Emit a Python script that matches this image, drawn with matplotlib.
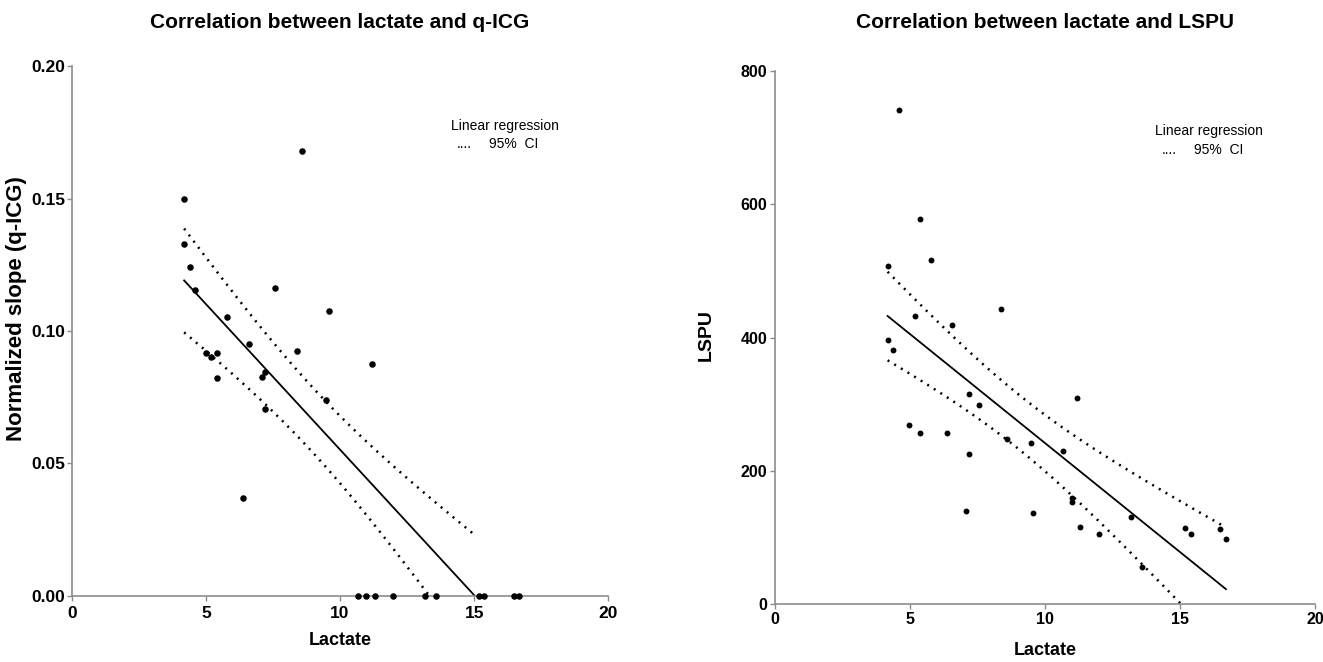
import matplotlib
matplotlib.use("Agg")
import matplotlib.pyplot as plt
import numpy as np

plt.rcParams['font.family'] = ['Liberation Sans', 'DejaVu Sans']

# lactate vs normalized slope (q-ICG)
qicg_lactate = [4.19, 4.19, 4.40, 4.59, 4.99, 5.19, 5.40, 5.40, 5.79, 6.39,
                6.59, 7.10, 7.20, 7.20, 7.59, 8.39, 8.59, 9.49, 9.58, 11.18,
                10.68, 10.98, 11.29, 11.99, 13.18, 13.58, 15.18, 15.38, 16.48, 16.66]
qicg_slope = [0.150, 0.133, 0.124, 0.1155, 0.0918, 0.0903, 0.0918, 0.0824, 0.1054, 0.0369,
              0.0950, 0.0828, 0.0844, 0.0705, 0.1164, 0.0925, 0.1678, 0.0741, 0.1077, 0.0875,
              0, 0, 0, 0, 0, 0, 0, 0, 0, 0]

# lactate vs LSPU
lspu_lactate = [4.58, 5.38, 5.77, 4.17, 5.18, 6.57, 8.38, 4.17, 4.38, 7.18,
                7.57, 11.19, 4.96, 5.38, 6.38, 8.58, 9.49, 10.68, 7.18, 10.98,
                10.98, 7.08, 9.57, 13.18, 11.28, 11.99, 15.18, 15.39, 16.48, 16.70, 13.59]
lspu_values = [741, 578, 516, 508, 433, 419, 443, 396, 381, 315,
               299, 309, 269, 256, 256, 248, 241, 229, 225, 159,
               153, 139, 136, 130, 115, 105, 114, 105, 112, 97, 56]

GRAY = '#8c8c8c'
DOTS = (0, (0.8, 2.3))


def fit_with_ci(x, y, xs, t=2.045):
    x = np.asarray(x, float)
    y = np.asarray(y, float)
    slope, icpt = np.polyfit(x, y, 1)
    resid = y - (slope * x + icpt)
    n = len(x)
    s = np.sqrt(np.sum(resid ** 2) / (n - 2))
    sxx = np.sum((x - x.mean()) ** 2)
    yfit = slope * xs + icpt
    half = t * s * np.sqrt(1.0 / n + (xs - x.mean()) ** 2 / sxx)
    return yfit, yfit - half, yfit + half, slope, icpt


def style_axes(ax, size, xpad, ypad):
    for side in ['top', 'right']:
        ax.spines[side].set_visible(False)
    for side in ['left', 'bottom']:
        ax.spines[side].set_color(GRAY)
        ax.spines[side].set_linewidth(1.2)
    ax.tick_params(direction='out', length=3.5, width=1, color=GRAY,
                   labelsize=size)
    ax.tick_params(axis='x', pad=xpad)
    ax.tick_params(axis='y', pad=ypad)
    for lab in ax.get_xticklabels() + ax.get_yticklabels():
        lab.set_fontweight('bold')


def legend_text(ax, x0, y0, y1, dx_dots, dx_ci):
    ax.text(x0, y0, 'Linear regression', transform=ax.transAxes,
            fontsize=10, va='center', ha='left')
    ax.text(x0 + dx_dots, y1, '....', transform=ax.transAxes,
            fontsize=10, va='center', ha='left')
    ax.text(x0 + dx_ci, y1, '95%  CI', transform=ax.transAxes,
            fontsize=10, va='center', ha='left')


fig = plt.figure(figsize=(13.23, 6.62), dpi=100)

# ---- left panel
ax1 = fig.add_axes([0.0542, 0.0997, 0.4056, 0.8006])
xq = np.asarray(qicg_lactate)
_, _, _, sl, ic = fit_with_ci(qicg_lactate, qicg_slope, xq)
x_end = -ic / sl
xs = np.linspace(xq.min(), x_end, 200)
yfit, lo, hi, _, _ = fit_with_ci(qicg_lactate, qicg_slope, xs)
ax1.plot(xs, yfit, color='black', lw=1.3)
ax1.plot(xs, hi, color='black', lw=1.8, linestyle=DOTS)
ax1.plot(xs, lo, color='black', lw=1.8, linestyle=DOTS)
ax1.scatter(qicg_lactate, qicg_slope, s=22, color='black', zorder=3,
            clip_on=False, linewidths=0)
ax1.set_xlim(0, 20)
ax1.set_ylim(0, 0.20)
ax1.set_xticks([0, 5, 10, 15, 20])
ax1.set_yticks([0, 0.05, 0.10, 0.15, 0.20])
ax1.set_yticklabels(['0.00', '0.05', '0.10', '0.15', '0.20'])
style_axes(ax1, 12.5, 4, 1)
ax1.set_xlabel('Lactate', fontsize=13, fontweight='bold')
ax1.xaxis.set_label_coords(0.5, -0.068)
ax1.set_ylabel('Normalized slope (q-ICG)', fontsize=16, fontweight='bold')
ax1.yaxis.set_label_coords(-0.083, 0.5415)
legend_text(ax1, 0.706, 0.887, 0.852, 0.012, 0.072)
fig.text(0.0542 + 0.4056 / 2, 1 - 22 / 662, 'Correlation between lactate and q-ICG',
         ha='center', va='center', fontsize=15, fontweight='bold')

# ---- right panel
ax2 = fig.add_axes([0.5858, 0.0876, 0.4082, 0.8051])
xl = np.asarray(lspu_lactate)
xs2 = np.linspace(xl.min(), xl.max(), 200)
yfit2, lo2, hi2, _, _ = fit_with_ci(lspu_lactate, lspu_values, xs2)
ax2.plot(xs2, yfit2, color='black', lw=1.3)
ax2.plot(xs2, hi2, color='black', lw=1.8, linestyle=DOTS)
ax2.plot(xs2, lo2, color='black', lw=1.8, linestyle=DOTS)
ax2.scatter(lspu_lactate, lspu_values, s=18, color='black', zorder=3,
            clip_on=False, linewidths=0)
ax2.set_xlim(0, 20)
ax2.set_ylim(0, 800)
ax2.set_xticks([0, 5, 10, 15, 20])
ax2.set_yticks([0, 200, 400, 600, 800])
style_axes(ax2, 11.5, 2, 2)
ax2.set_xlabel('Lactate', fontsize=13, fontweight='bold')
ax2.xaxis.set_label_coords(0.5, -0.072)
ax2.set_ylabel('LSPU', fontsize=14, fontweight='bold')
ax2.yaxis.set_label_coords(-0.111, 0.505)
legend_text(ax2, 0.704, 0.887, 0.852, 0.012, 0.072)
fig.text(0.5858 + 0.4082 / 2, 1 - 22 / 662, 'Correlation between lactate and LSPU',
         ha='center', va='center', fontsize=15, fontweight='bold')

fig.savefig('out.png', dpi=100)
